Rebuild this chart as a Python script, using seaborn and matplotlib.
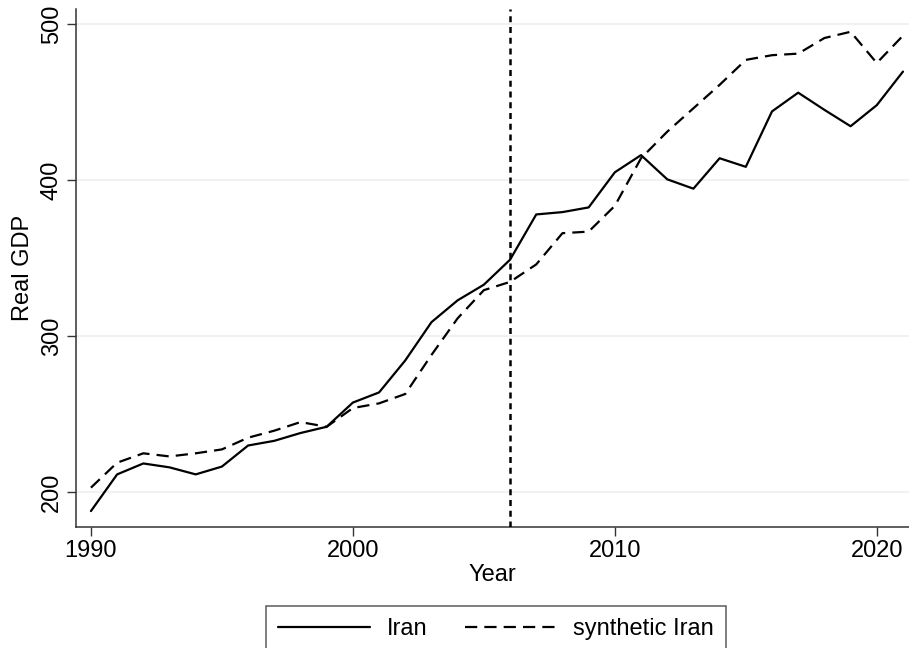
import matplotlib
matplotlib.use("Agg")
import matplotlib.pyplot as plt
import seaborn as sns
import pandas as pd

# Annual real GDP, actual vs. synthetic control
years = list(range(1990, 2022))
iran = [188, 211.5, 218.5, 216, 211.5, 216.5, 230, 233, 238, 242,
        257.5, 264, 284.5, 309, 323, 333, 349, 378, 379.5, 382.5,
        405, 416, 400.5, 394.5, 414, 408.5, 444, 456, 445, 434.5,
        448, 469.5]
synthetic_iran = [203, 219, 225, 223, 225, 227.5, 235, 239.5, 245, 242,
                  254, 257, 263, 288, 311.5, 329.5, 334.8, 346, 366, 367,
                  383.5, 414, 431, 446, 461, 477, 480, 481, 491, 495,
                  475, 492.5]
treatment_year = 2006
x_ticks = [1990, 2000, 2010, 2020]
y_ticks = [200, 300, 400, 500]

df = pd.DataFrame({
    "Year": years * 2,
    "Real GDP": iran + synthetic_iran,
    "series": ["Iran"] * len(years) + ["synthetic Iran"] * len(years),
})

sns.set_theme(style="white")
plt.rcParams["font.family"] = ["Liberation Sans", "DejaVu Sans"]
plt.rcParams["text.color"] = "black"
plt.rcParams["axes.labelcolor"] = "black"
plt.rcParams["xtick.color"] = "black"
plt.rcParams["ytick.color"] = "black"

fig = plt.figure(figsize=(9.09, 6.48), dpi=100)
ax = fig.add_axes([76 / 909, 1 - 527 / 648, 1 - 76 / 909, (527 - 9.3) / 648])

lw = 1.6
sns.lineplot(data=df, x="Year", y="Real GDP", hue="series", style="series",
             palette=["black", "black"], dashes=[(None, None), (5.5, 3.2)],
             linewidth=lw, ax=ax, legend=False)

ax.axvline(treatment_year, color="black", linewidth=1.8,
           linestyle=(0, (2.4, 1.9)), zorder=3)

ax.set_xlim(1989.43, 2021.23)
ax.set_ylim(177.8, 509.4)
ax.set_xticks(x_ticks)
ax.set_yticks(y_ticks)
ax.yaxis.grid(True, color="#eaf1f4", linewidth=1.3)
ax.xaxis.grid(False)
ax.set_axisbelow(True)

for side in ("top", "right"):
    ax.spines[side].set_visible(False)
for side in ("left", "bottom"):
    ax.spines[side].set_color("#333333")
    ax.spines[side].set_linewidth(1.1)

ax.tick_params(axis="both", which="major", direction="out", length=6.5,
               width=1, color="#333333", labelsize=17, pad=3,
               bottom=True, left=True)
for lbl in ax.get_yticklabels():
    lbl.set_rotation(90)
    lbl.set_va("center")

ax.set_xlabel("Year", fontsize=17, labelpad=1)
ax.set_ylabel("Real GDP", fontsize=17, labelpad=5)

handles = [
    plt.Line2D([], [], color="black", linewidth=lw),
    plt.Line2D([], [], color="black", linewidth=lw, dashes=(5.5, 3.2)),
]
leg = fig.legend(handles, ["Iran", "synthetic Iran"], ncol=2,
                 loc="upper center", bbox_to_anchor=(496 / 909, 1 - 606 / 648),
                 fontsize=17, frameon=True, fancybox=False,
                 handlelength=3.9, handletextpad=0.7, columnspacing=1.6,
                 borderpad=0.5, borderaxespad=0)
leg.get_frame().set_edgecolor("#333333")
leg.get_frame().set_linewidth(1.1)

fig.savefig("out.png", dpi=100)
